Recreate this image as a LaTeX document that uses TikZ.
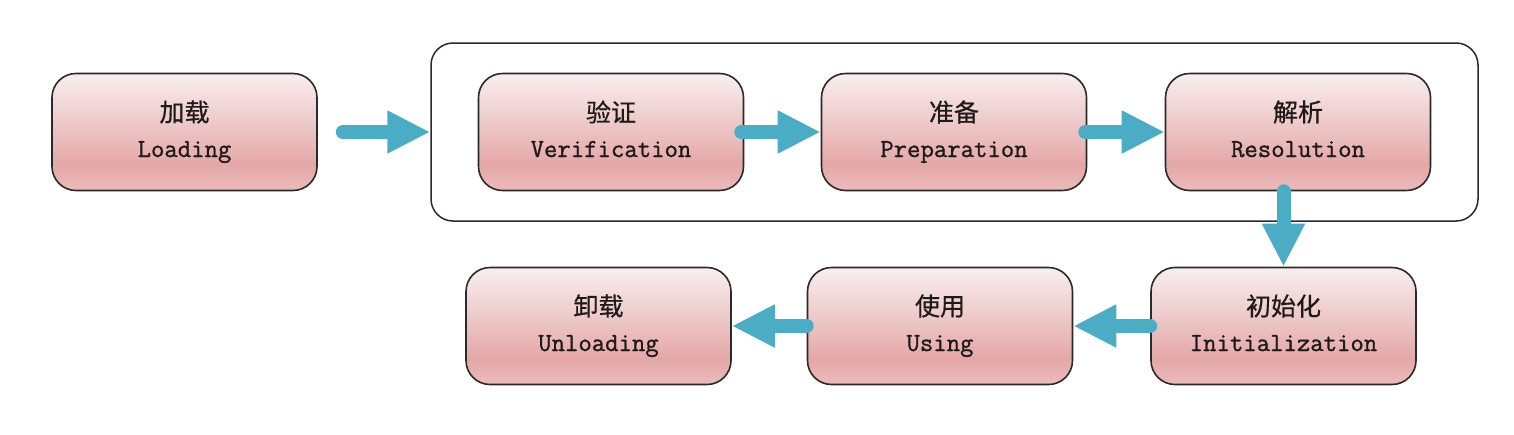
\documentclass[tikz,border=0pt]{standalone}
\usepackage{fontspec}
\usetikzlibrary{arrows.meta}
\newfontfamily\cjk[FakeBold=0.6]{Noto Sans CJK SC}
\newfontfamily\mono[FakeBold=1.0]{Latin Modern Mono}
\definecolor{arrowblue}{HTML}{4BACC6}
\definecolor{shTop}{HTML}{F8EEEE}
\definecolor{shMid}{HTML}{EDC5C5}
\definecolor{shDark}{HTML}{E4A7A7}
\definecolor{shBot}{HTML}{ECBBBB}
\definecolor{edgecol}{HTML}{2A2A2A}
\definecolor{txtcol}{HTML}{1E1A1A}
\pgfdeclareverticalshading{stageshade}{100bp}{color(0bp)=(shBot); color(25bp)=(shBot); color(36bp)=(shDark); color(52bp)=(shMid); color(75bp)=(shTop); color(100bp)=(shTop)}
\tikzset{
  stage/.style={draw=edgecol, line width=1.6pt, rounded corners=24pt,
    minimum width=265pt, minimum height=117pt, shading=stageshade, inner sep=0pt},
  phasebox/.style={draw=edgecol, line width=1.5pt, rounded corners=22pt,
    minimum width=1047pt, minimum height=178pt, inner sep=0pt},
  cn/.style={font=\cjk\fontsize{25}{28}\selectfont, text=txtcol, inner sep=0pt, anchor=center},
  en/.style={font=\mono\fontsize{26}{30}\selectfont, text=txtcol, inner sep=0pt, anchor=base},
  flow/.style={line width=14pt, draw=arrowblue, line cap=round,
    -{Triangle[length=43pt,width=40pt]}}
}
\begin{document}
\begin{tikzpicture}[x=1pt,y=-1pt]
\path[fill=white] (0,0) rectangle (1514,434);
\useasboundingbox (0,0) rectangle (1514,434);
\node[phasebox] (phase) at (954.5,132) {};
\node[stage] (load) at (184.5,132) {};
\node[stage] (verif) at (611,132) {};
\node[stage] (prep) at (954,132) {};
\node[stage] (resol) at (1298,132) {};
\node[stage] (init) at (1283.5,326) {};
\node[stage] (using) at (940,326) {};
\node[stage] (unload) at (598.5,326) {};
\foreach \n/\c/\e in {load/加载/Loading, verif/验证/Verification, prep/准备/Preparation,
  resol/解析/Resolution, init/初始化/Initialization, using/使用/Using, unload/卸载/Unloading}{
  \node[cn] (\n-cn) at ([yshift=20pt]\n.center) {\c};
  \node[en] (\n-en) at ([yshift=-25pt]\n.center) {\e};
}
\draw[flow] ([xshift=25pt]load.east) -- (phase.west);
\draw[flow] ([xshift=-3pt]verif.east) -- (prep.west);
\draw[flow] ([xshift=-2pt]prep.east) -- (resol.west);
\draw[flow] (init.north |- resol.south) -- (init.north);
\draw[flow] (init.west) -- (using.east);
\draw[flow] (using.west) -- (unload.east);
\end{tikzpicture}
\end{document}
